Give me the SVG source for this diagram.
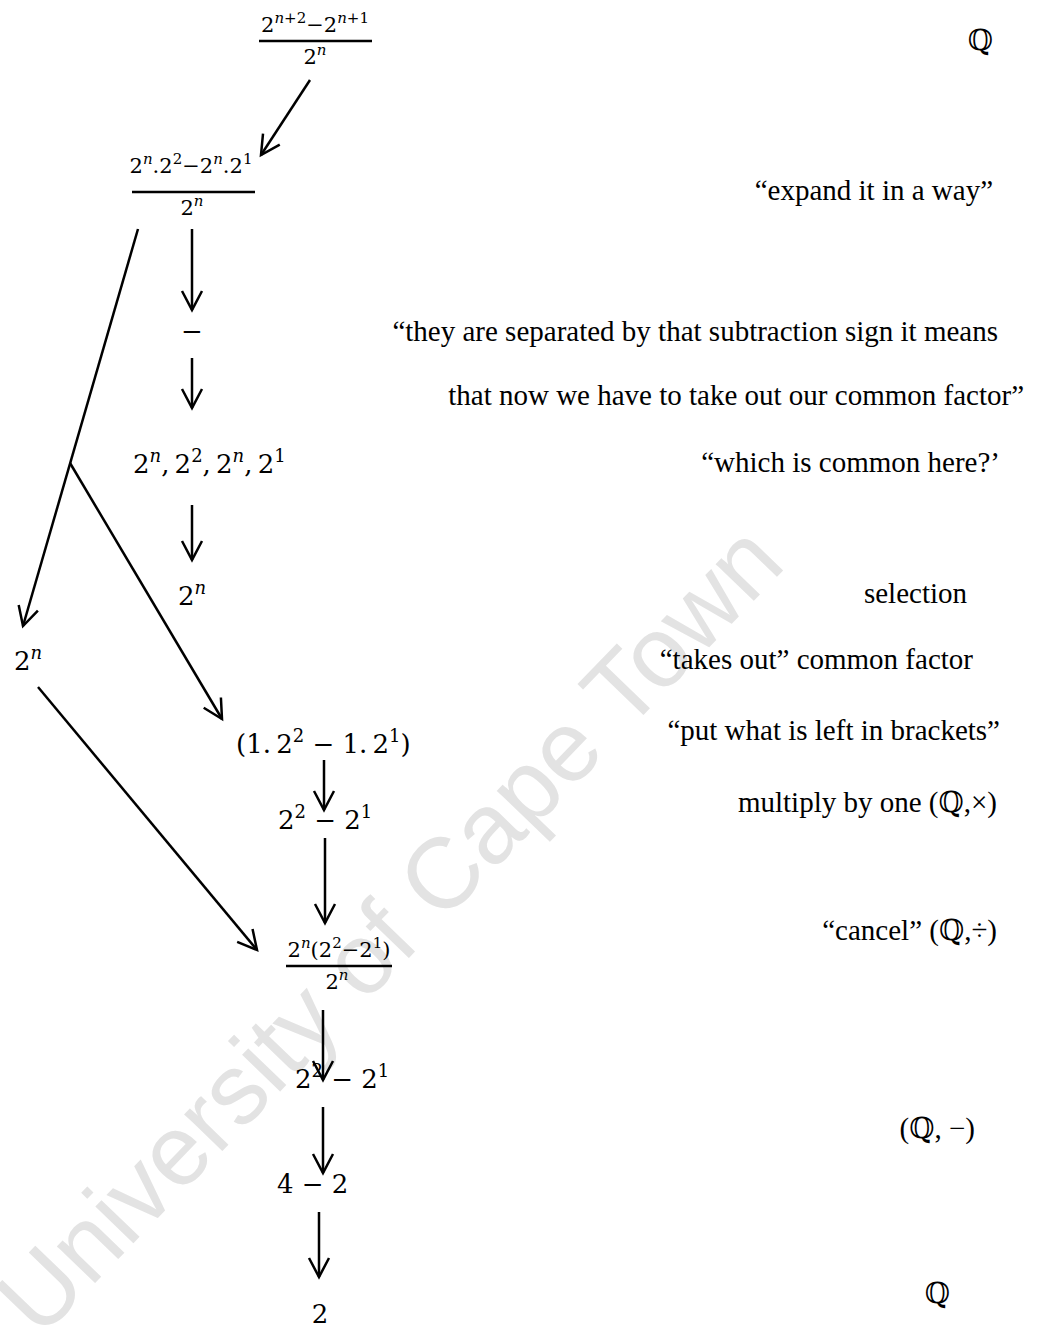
<svg xmlns="http://www.w3.org/2000/svg" width="1037" height="1330" viewBox="0 0 1037 1330">
<style>
.m{font-family:"DejaVu Serif","Liberation Serif",serif;font-size:26px;fill:#000}
.s{font-size:18px}
.fm{font-family:"DejaVu Serif","Liberation Serif",serif;font-size:21px;fill:#000}
.fs{font-size:15px}
.it{font-style:italic}
.t{font-family:"Liberation Serif","DejaVu Serif",serif;font-size:29px;fill:#000}
.wm{font-family:"Liberation Sans",Arial,sans-serif;font-size:100px;fill:#e3e3e3}
.c{stroke:#000;stroke-width:2.5;fill:none}
.bar{stroke:#000;stroke-width:2.5}
</style>
<defs>
<marker id="ah" markerUnits="userSpaceOnUse" markerWidth="30" markerHeight="30" refX="0" refY="0" orient="auto" overflow="visible">
<path d="M-19,-10 L0,0 L-19,10" fill="none" stroke="#000" stroke-width="2.5"/>
</marker>
</defs>
<rect width="1037" height="1330" fill="#fff"/>
<text class="wm" transform="translate(40,1340) rotate(-46)">University of Cape Town</text>

<g id="connectors">
<line class="c" x1="310" y1="80" x2="261" y2="155" marker-end="url(#ah)"/>
<line class="c" x1="192" y1="229" x2="192" y2="310" marker-end="url(#ah)"/>
<line class="c" x1="192" y1="358" x2="192" y2="408" marker-end="url(#ah)"/>
<line class="c" x1="192" y1="505" x2="192" y2="560" marker-end="url(#ah)"/>
<line class="c" x1="138" y1="229" x2="23" y2="626" marker-end="url(#ah)"/>
<line class="c" x1="70" y1="463" x2="222" y2="719" marker-end="url(#ah)"/>
<line class="c" x1="38" y1="687" x2="257" y2="950" marker-end="url(#ah)"/>
<line class="c" x1="324" y1="760" x2="324" y2="810" marker-end="url(#ah)"/>
<line class="c" x1="325" y1="838" x2="325" y2="923" marker-end="url(#ah)"/>
<line class="c" x1="323" y1="1010" x2="323" y2="1080" marker-end="url(#ah)"/>
<line class="c" x1="323" y1="1107" x2="323" y2="1173" marker-end="url(#ah)"/>
<line class="c" x1="319" y1="1212" x2="319" y2="1277" marker-end="url(#ah)"/>
</g>

<g id="n-frac1">
<text class="fm" x="315" y="32" text-anchor="middle">2<tspan class="fs" dy="-9"><tspan class="it">n</tspan>+2</tspan><tspan dy="9">−2</tspan><tspan class="fs" dy="-9"><tspan class="it">n</tspan>+1</tspan></text>
<line class="bar" x1="259" y1="41" x2="372" y2="41"/>
<text class="fm" x="315" y="64" text-anchor="middle">2<tspan class="fs it" dy="-9">n</tspan></text>
</g>

<g id="n-frac2">
<text class="fm" x="191" y="173" text-anchor="middle">2<tspan class="fs it" dy="-9">n</tspan><tspan dy="9">.2</tspan><tspan class="fs" dy="-9">2</tspan><tspan dy="9">−2</tspan><tspan class="fs it" dy="-9">n</tspan><tspan dy="9">.2</tspan><tspan class="fs" dy="-9">1</tspan></text>
<line class="bar" x1="132" y1="192" x2="255" y2="192"/>
<text class="fm" x="192" y="215" text-anchor="middle">2<tspan class="fs it" dy="-9">n</tspan></text>
</g>

<g id="n-minus"><text class="m" x="192" y="340" text-anchor="middle">−</text></g>

<g id="n-list"><text class="m" x="133" y="473">2<tspan class="s it" dy="-11">n</tspan><tspan dy="11">,&#8201;2</tspan><tspan class="s" dy="-11">2</tspan><tspan dy="11">,&#8201;2</tspan><tspan class="s it" dy="-11">n</tspan><tspan dy="11">,&#8201;2</tspan><tspan class="s" dy="-11">1</tspan></text></g>

<g id="n-sel"><text class="m" x="178" y="605">2<tspan class="s it" dy="-11">n</tspan></text></g>

<g id="n-left"><text class="m" x="14" y="670">2<tspan class="s it" dy="-11">n</tspan></text></g>

<g id="n-brackets"><text class="m" x="236" y="753">(1.&#8201;2<tspan class="s" dy="-11">2</tspan><tspan dy="11"> − 1.&#8201;2</tspan><tspan class="s" dy="-11">1</tspan><tspan dy="11">)</tspan></text></g>

<g id="n-diff1"><text class="m" x="278" y="829">2<tspan class="s" dy="-11">2</tspan><tspan dy="11"> − 2</tspan><tspan class="s" dy="-11">1</tspan></text></g>

<g id="n-frac3">
<text class="fm" x="339" y="957" text-anchor="middle">2<tspan class="fs it" dy="-9">n</tspan><tspan dy="9">(2</tspan><tspan class="fs" dy="-9">2</tspan><tspan dy="9">−2</tspan><tspan class="fs" dy="-9">1</tspan><tspan dy="9">)</tspan></text>
<line class="bar" x1="286" y1="966" x2="392" y2="966"/>
<text class="fm" x="337" y="989" text-anchor="middle">2<tspan class="fs it" dy="-9">n</tspan></text>
</g>

<g id="n-diff2"><text class="m" x="295" y="1088">2<tspan class="s" dy="-11">2</tspan><tspan dy="11"> − 2</tspan><tspan class="s" dy="-11">1</tspan></text></g>

<g id="n-num"><text class="m" x="277" y="1193">4 − 2</text></g>

<g id="n-result"><text class="m" x="320" y="1323" text-anchor="middle">2</text></g>

<g id="notes">
<text class="t" x="993" y="50" text-anchor="end">ℚ</text>
<text class="t" x="993" y="200" text-anchor="end">“expand it in a way”</text>
<text class="t" x="998" y="341" text-anchor="end">“they are separated by that subtraction sign it means</text>
<text class="t" x="1024" y="405" text-anchor="end">that now we have to take out our common factor”</text>
<text class="t" x="1000" y="472" text-anchor="end">“which is common here?’</text>
<text class="t" x="967" y="603" text-anchor="end">selection</text>
<text class="t" x="973" y="669" text-anchor="end">“takes out” common factor</text>
<text class="t" x="1000" y="740" text-anchor="end">“put what is left in brackets”</text>
<text class="t" x="997" y="812" text-anchor="end">multiply by one (ℚ,×)</text>
<text class="t" x="997" y="940" text-anchor="end">“cancel” (ℚ,÷)</text>
<text class="t" x="975" y="1138" text-anchor="end">(ℚ, −)</text>
<text class="t" x="950" y="1303" text-anchor="end">ℚ</text>
</g>
</svg>
